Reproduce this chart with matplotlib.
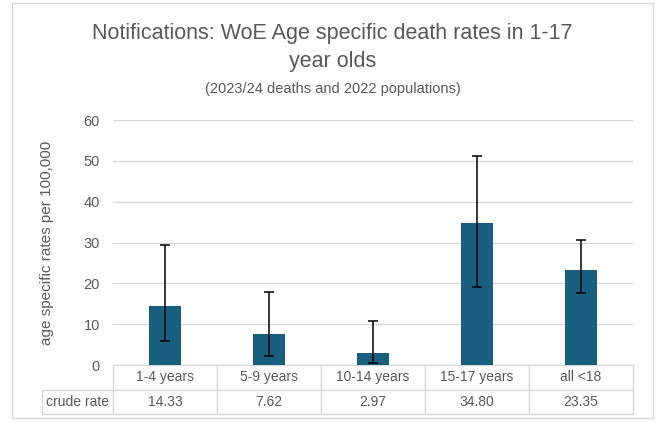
import matplotlib.pyplot as plt
from matplotlib.patches import Rectangle

# datos del grafico
categorias = ['1-4 years', '5-9 years', '10-14 years', '15-17 years', 'all <18']
tasa_cruda = [14.33, 7.62, 2.97, 34.80, 23.35]
limite_inferior = [5.8, 2.3, 0.4, 19.2, 17.6]
limite_superior = [29.5, 18.0, 10.8, 51.2, 30.6]

gris_texto = '#595959'
gris_linea = '#d9d9d9'
color_barra = '#175e7f'

plt.rcParams['font.family'] = ['Liberation Sans', 'DejaVu Sans']

fig = plt.figure(figsize=(6.58, 4.23), dpi=100)
W, H = 658, 423

# marco exterior del grafico
fig.patches.append(Rectangle((12 / W, 1 - 418 / H), 641 / W, 415 / H,
                             transform=fig.transFigure, fill=False,
                             edgecolor=gris_linea, linewidth=1))

ax = fig.add_axes([113 / W, 1 - 365 / H, 520 / W, 245 / H])

x = list(range(len(categorias)))
err_abajo = [t - lo for t, lo in zip(tasa_cruda, limite_inferior)]
err_arriba = [hi - t for t, hi in zip(tasa_cruda, limite_superior)]

ax.bar(x, tasa_cruda, width=0.31, color=color_barra, zorder=3)
ax.errorbar(x, tasa_cruda, yerr=[err_abajo, err_arriba], fmt='none',
            ecolor='black', elinewidth=1.1, capsize=3.5, capthick=1.1, zorder=4)

ax.set_xlim(-0.5, len(categorias) - 0.5)
ax.set_ylim(0, 60)
ax.set_yticks(range(0, 61, 10))
ax.set_xticks([])
ax.grid(axis='y', color=gris_linea, linewidth=1, zorder=0)
for s in ax.spines.values():
    s.set_visible(False)
ax.tick_params(axis='y', length=0, pad=9.5, labelsize=10.5, labelcolor=gris_texto)
ax.set_ylabel('age specific rates per 100,000', color=gris_texto, fontsize=11)
ax.yaxis.set_label_coords(-59 / 520, 0.5)

# tabla de datos debajo del eje
ancho_etiqueta = 71
ancho_col = 104
total = ancho_etiqueta + ancho_col * len(categorias)
texto_tabla = [[''] + categorias,
               ['crude rate'] + ['{:.2f}'.format(v) for v in tasa_cruda]]
tabla = ax.table(cellText=texto_tabla,
                 colWidths=[ancho_etiqueta / total] + [ancho_col / total] * len(categorias),
                 cellLoc='center',
                 bbox=[-ancho_etiqueta / 520, -49 / 245, total / 520, 49 / 245])
tabla.auto_set_font_size(False)
for (fila, col), celda in tabla.get_celld().items():
    celda.set_edgecolor(gris_linea)
    celda.set_linewidth(1)
    celda.get_text().set_color(gris_texto)
    celda.get_text().set_fontsize(10)
    if fila == 0 and col == 0:
        celda.visible_edges = ''

fig.text(332.5 / W, 1 - 33 / H, 'Notifications: WoE Age specific death rates in 1-17',
         ha='center', va='center', fontsize=15.5, color=gris_texto)
fig.text(332.5 / W, 1 - 61 / H, 'year olds',
         ha='center', va='center', fontsize=15.5, color=gris_texto)
fig.text(332.5 / W, 1 - 89 / H, '(2023/24 deaths and 2022 populations)',
         ha='center', va='center', fontsize=10.5, color=gris_texto)

fig.savefig('out.png', dpi=100)
